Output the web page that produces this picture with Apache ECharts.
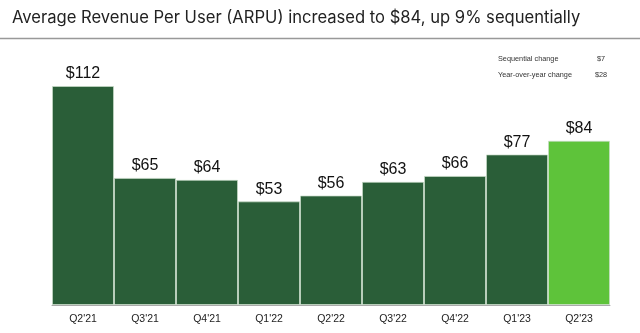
<!DOCTYPE html>
<html><head><meta charset="utf-8">
<script src="https://cdn.jsdelivr.net/npm/echarts@6/dist/echarts.min.js"></script>
<style>html,body{margin:0;padding:0;background:#fff}#c{width:640px;height:333px}</style>
</head><body><div id="c"></div>
<script>
const categories = ["Q2'21","Q3'21","Q4'21","Q1'22","Q2'22","Q3'22","Q4'22","Q1'23","Q2'23"];
const arpu = [112,65,64,53,56,63,66,77,84];
const barColors = ["#2a5e38","#2a5e38","#2a5e38","#2a5e38","#2a5e38","#2a5e38","#2a5e38","#2a5e38","#5ec33a"];
const sideLabels = ["Sequential change","Year-over-year change"];
const sideValues = ["$7","$28"];

const chart = echarts.init(document.getElementById('c'));
chart.setOption({
  animation:false,
  title:{text:'Average Revenue Per User (ARPU) increased to $84, up 9% sequentially',left:7,top:4,
    textStyle:{fontFamily:'Inter, Roboto, sans-serif',fontSize:16.6,fontWeight:'normal',color:'#222'}},
  grid:{left:52,right:30,top:86,bottom:28},
  xAxis:{type:'category',data:categories,
    axisLine:{lineStyle:{color:'#aaa',width:1}},axisTick:{show:false},
    axisLabel:{color:'#222',fontSize:10.5,fontFamily:'Liberation Sans, Arial, sans-serif',margin:9}},
  yAxis:{type:'value',min:0,max:112,show:false,splitLine:{show:false}},
  series:[{type:'bar',barCategoryGap:0,
    data:arpu.map((v,i)=>({value:v,itemStyle:{color:barColors[i]}})),
    itemStyle:{borderColor:'rgba(200,220,200,0.7)',borderWidth:1},
    label:{show:true,position:'top',distance:4,formatter:p=>'$'+p.value,
      color:'#111',fontSize:16,fontFamily:'Liberation Sans, Arial, sans-serif'}}],
  graphic:[
    {type:'line',shape:{x1:0,y1:38.5,x2:640,y2:38.5},style:{stroke:'#999',lineWidth:1.5}},
    {type:'text',left:498,top:55,style:{text:sideLabels[0],fontSize:7.3,fill:'#333',fontFamily:'Liberation Sans, Arial, sans-serif'}},
    {type:'text',left:498,top:71,style:{text:sideLabels[1],fontSize:7.3,fill:'#333',fontFamily:'Liberation Sans, Arial, sans-serif'}},
    {type:'text',left:597,top:55,style:{text:sideValues[0],fontSize:7.3,fill:'#333',fontFamily:'Liberation Sans, Arial, sans-serif'}},
    {type:'text',left:595,top:71,style:{text:sideValues[1],fontSize:7.3,fill:'#333',fontFamily:'Liberation Sans, Arial, sans-serif'}}
  ]
});
</script></body></html>
